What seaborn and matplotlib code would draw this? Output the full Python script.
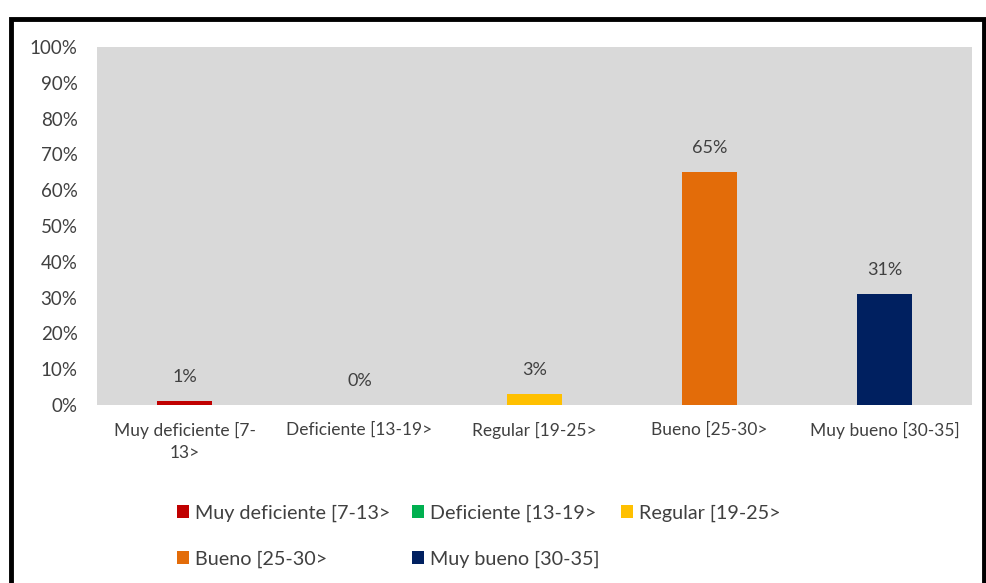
import matplotlib
matplotlib.use('Agg')
import matplotlib.pyplot as plt
import seaborn as sns
import pandas as pd
from matplotlib.patches import Rectangle, Patch
from matplotlib.ticker import PercentFormatter

sns.set_style('white')
plt.rcParams['font.family'] = ['Lato', 'DejaVu Sans']

categories = ['Muy deficiente [7-13>', 'Deficiente [13-19>', 'Regular [19-25>',
              'Bueno [25-30>', 'Muy bueno [30-35]']
tick_labels = ['Muy deficiente [7-\n13>', 'Deficiente [13-19>', 'Regular [19-25>',
               'Bueno [25-30>', 'Muy bueno [30-35]']
values = [0.01, 0.00, 0.03, 0.65, 0.31]
colors = ['#C00000', '#00B050', '#FFC000', '#E36C09', '#002060']

df = pd.DataFrame({'cat': categories, 'val': values})
palette = dict(zip(categories, colors))
txt = '#404040'

fig = plt.figure(figsize=(9.86, 5.83), dpi=100)
ax = fig.add_axes([0.0984, 0.3053, 0.8874, 0.6141])
ax.set_facecolor('#D9D9D9')

sns.barplot(data=df, x='cat', y='val', hue='cat', palette=palette, order=categories,
            hue_order=categories, width=0.31, saturation=1, legend=False,
            linewidth=0, ax=ax)

ax.set_ylim(0, 1)
ax.set_xlim(-0.5, 4.5)
ax.set_yticks([i / 10 for i in range(11)])
ax.yaxis.set_major_formatter(PercentFormatter(1, decimals=0))
ax.set_xticks(range(len(categories)))
ax.set_xticklabels(tick_labels, linespacing=1.45)
ax.tick_params(axis='y', length=0, pad=14, labelsize=13.5, labelcolor=txt)
ax.tick_params(axis='x', length=0, pad=12, labelsize=12.5, labelcolor=txt)
ax.set_xlabel('')
ax.set_ylabel('')
for s in ax.spines.values():
    s.set_visible(False)

for i, v in enumerate(values):
    ax.text(i, v + 0.067, f'{v*100:.0f}%', ha='center', va='center',
            fontsize=13, color=txt)

# legend in row-major order (3 columns)
handles = [Patch(facecolor=c, edgecolor='none') for c in colors]
order = [0, 3, 1, 4, 2]
fig.legend([handles[i] for i in order], [categories[i] for i in order],
           ncol=3, loc='upper left', bbox_to_anchor=(0.18, 0.135), frameon=False,
           fontsize=14.2, handlelength=0.6, handleheight=0.6, handletextpad=0.3,
           columnspacing=1.1, labelspacing=1.45, labelcolor=txt,
           borderaxespad=0, borderpad=0)

# outer black frame
fig.patches.append(Rectangle((11 / 986, -0.1), 973 / 986, 1.1 - 19 / 583,
                             transform=fig.transFigure, fill=False,
                             edgecolor='black', linewidth=3.5, clip_on=False))

fig.savefig('out.png', dpi=100, facecolor='white')
